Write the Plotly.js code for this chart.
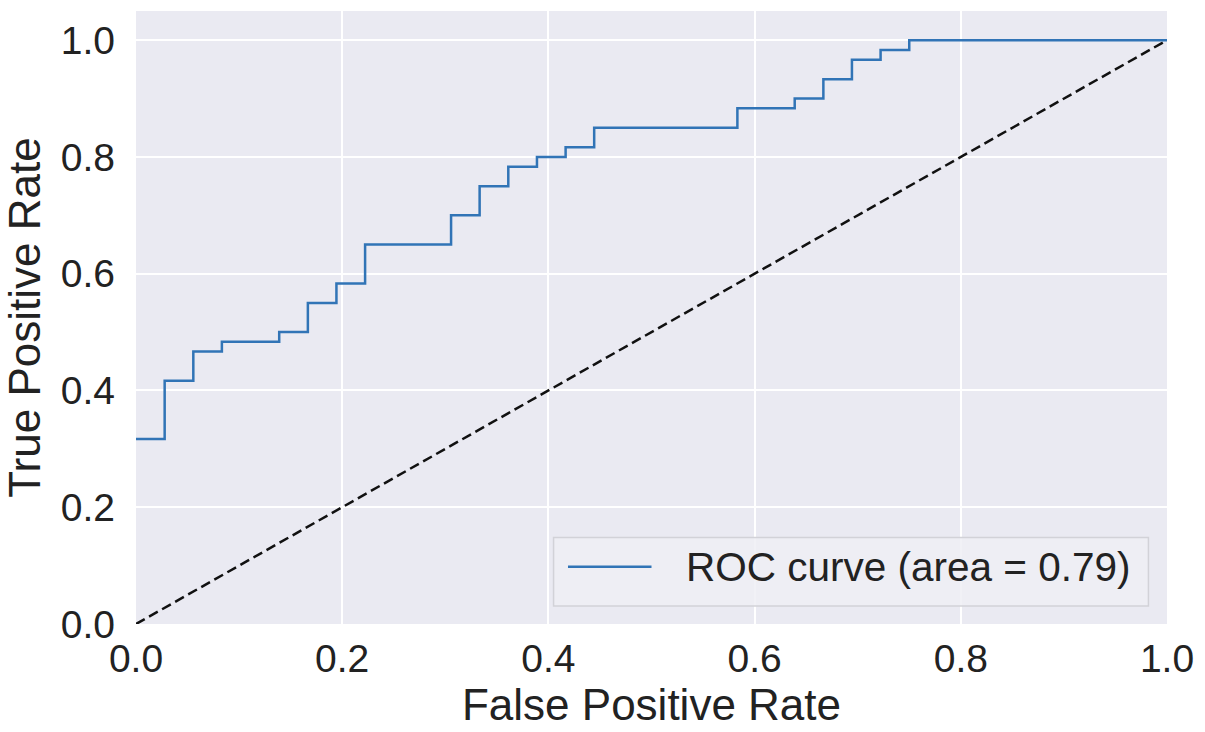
<!DOCTYPE html>
<html>
<head>
<meta charset="utf-8">
<script src="https://cdn.plot.ly/plotly-3.0.1.min.js"></script>
<style>html,body{margin:0;padding:0;background:#fff;}#chart{width:1205px;height:732px;}</style>
</head>
<body>
<div id="chart"></div>
<script>
// ROC curve step points (false positive rate, true positive rate)
var fpr = [0.0, 0.0278, 0.0556, 0.0833, 0.1389, 0.1667, 0.1944, 0.2222, 0.3056, 0.3333, 0.3611, 0.3889, 0.4167, 0.4444, 0.5833, 0.6389, 0.6667, 0.6944, 0.7222, 0.75, 1.0];
var tpr = [0.3167, 0.4167, 0.4667, 0.4833, 0.5, 0.55, 0.5833, 0.65, 0.7, 0.75, 0.7833, 0.8, 0.8167, 0.85, 0.8833, 0.9, 0.9333, 0.9667, 0.9833, 1.0, 1.0];
// chance diagonal
var diagX = [0, 1];
var diagY = [0, 1];
var areaLabel = "ROC curve (area = 0.79)";
var tickVals = [0, 0.2, 0.4, 0.6, 0.8, 1.0];
var tickText = ["0.0", "0.2", "0.4", "0.6", "0.8", "1.0"];

var FONT = "Arial, 'Liberation Sans', sans-serif";
var blue = "#3174b6";

var traces = [
  {x: diagX, y: diagY, mode: "lines", line: {color: "#111", width: 2.5, dash: "10px,5px"}, showlegend: false, hoverinfo: "skip"},
  {x: fpr, y: tpr, mode: "lines", line: {color: blue, width: 2.5, shape: "hv"}, name: areaLabel, showlegend: false}
];

var layout = {
  width: 1205, height: 732,
  margin: {l: 136, r: 38, t: 10.5, b: 108, pad: 0},
  paper_bgcolor: "#ffffff",
  plot_bgcolor: "#eaeaf2",
  font: {family: FONT, color: "#222"},
  showlegend: false,
  xaxis: {
    range: [0, 1], tickvals: tickVals, ticktext: tickText,
    showgrid: true, gridcolor: "#ffffff", gridwidth: 2, zeroline: false, showline: false,
    ticks: "", ticklabelstandoff: 8,
    tickfont: {size: 39, family: FONT, color: "#222"},
    title: {text: "False Positive Rate", font: {size: 44, family: FONT, color: "#222"}, standoff: 2}
  },
  yaxis: {
    range: [0, 1.05], tickvals: tickVals, ticktext: tickText,
    showgrid: true, gridcolor: "#ffffff", gridwidth: 2, zeroline: false, showline: false,
    ticks: "", ticklabelstandoff: 20,
    tickfont: {size: 39, family: FONT, color: "#222"},
    title: {text: "True Positive Rate", font: {size: 44, family: FONT, color: "#222"}, standoff: 10}
  },
  shapes: [
    {type: "rect", xref: "paper", yref: "paper", x0: 0.405, x1: 0.982, y0: 0.0293, y1: 0.1413,
     line: {color: "#d2d2d8", width: 1.5}, fillcolor: "rgba(238,238,245,0.85)", layer: "above"},
    {type: "line", xref: "paper", yref: "paper", x0: 0.419, x1: 0.5, y0: 0.0934, y1: 0.0934,
     line: {color: blue, width: 2.5}, layer: "above"}
  ],
  annotations: [
    {xref: "paper", yref: "paper", x: 0.532, y: 0.093, xanchor: "left", yanchor: "middle",
     text: areaLabel, showarrow: false, font: {size: 40.5, family: FONT, color: "#222"}}
  ]
};

Plotly.newPlot("chart", traces, layout, {staticPlot: true, displayModeBar: false});
</script>
</body>
</html>
